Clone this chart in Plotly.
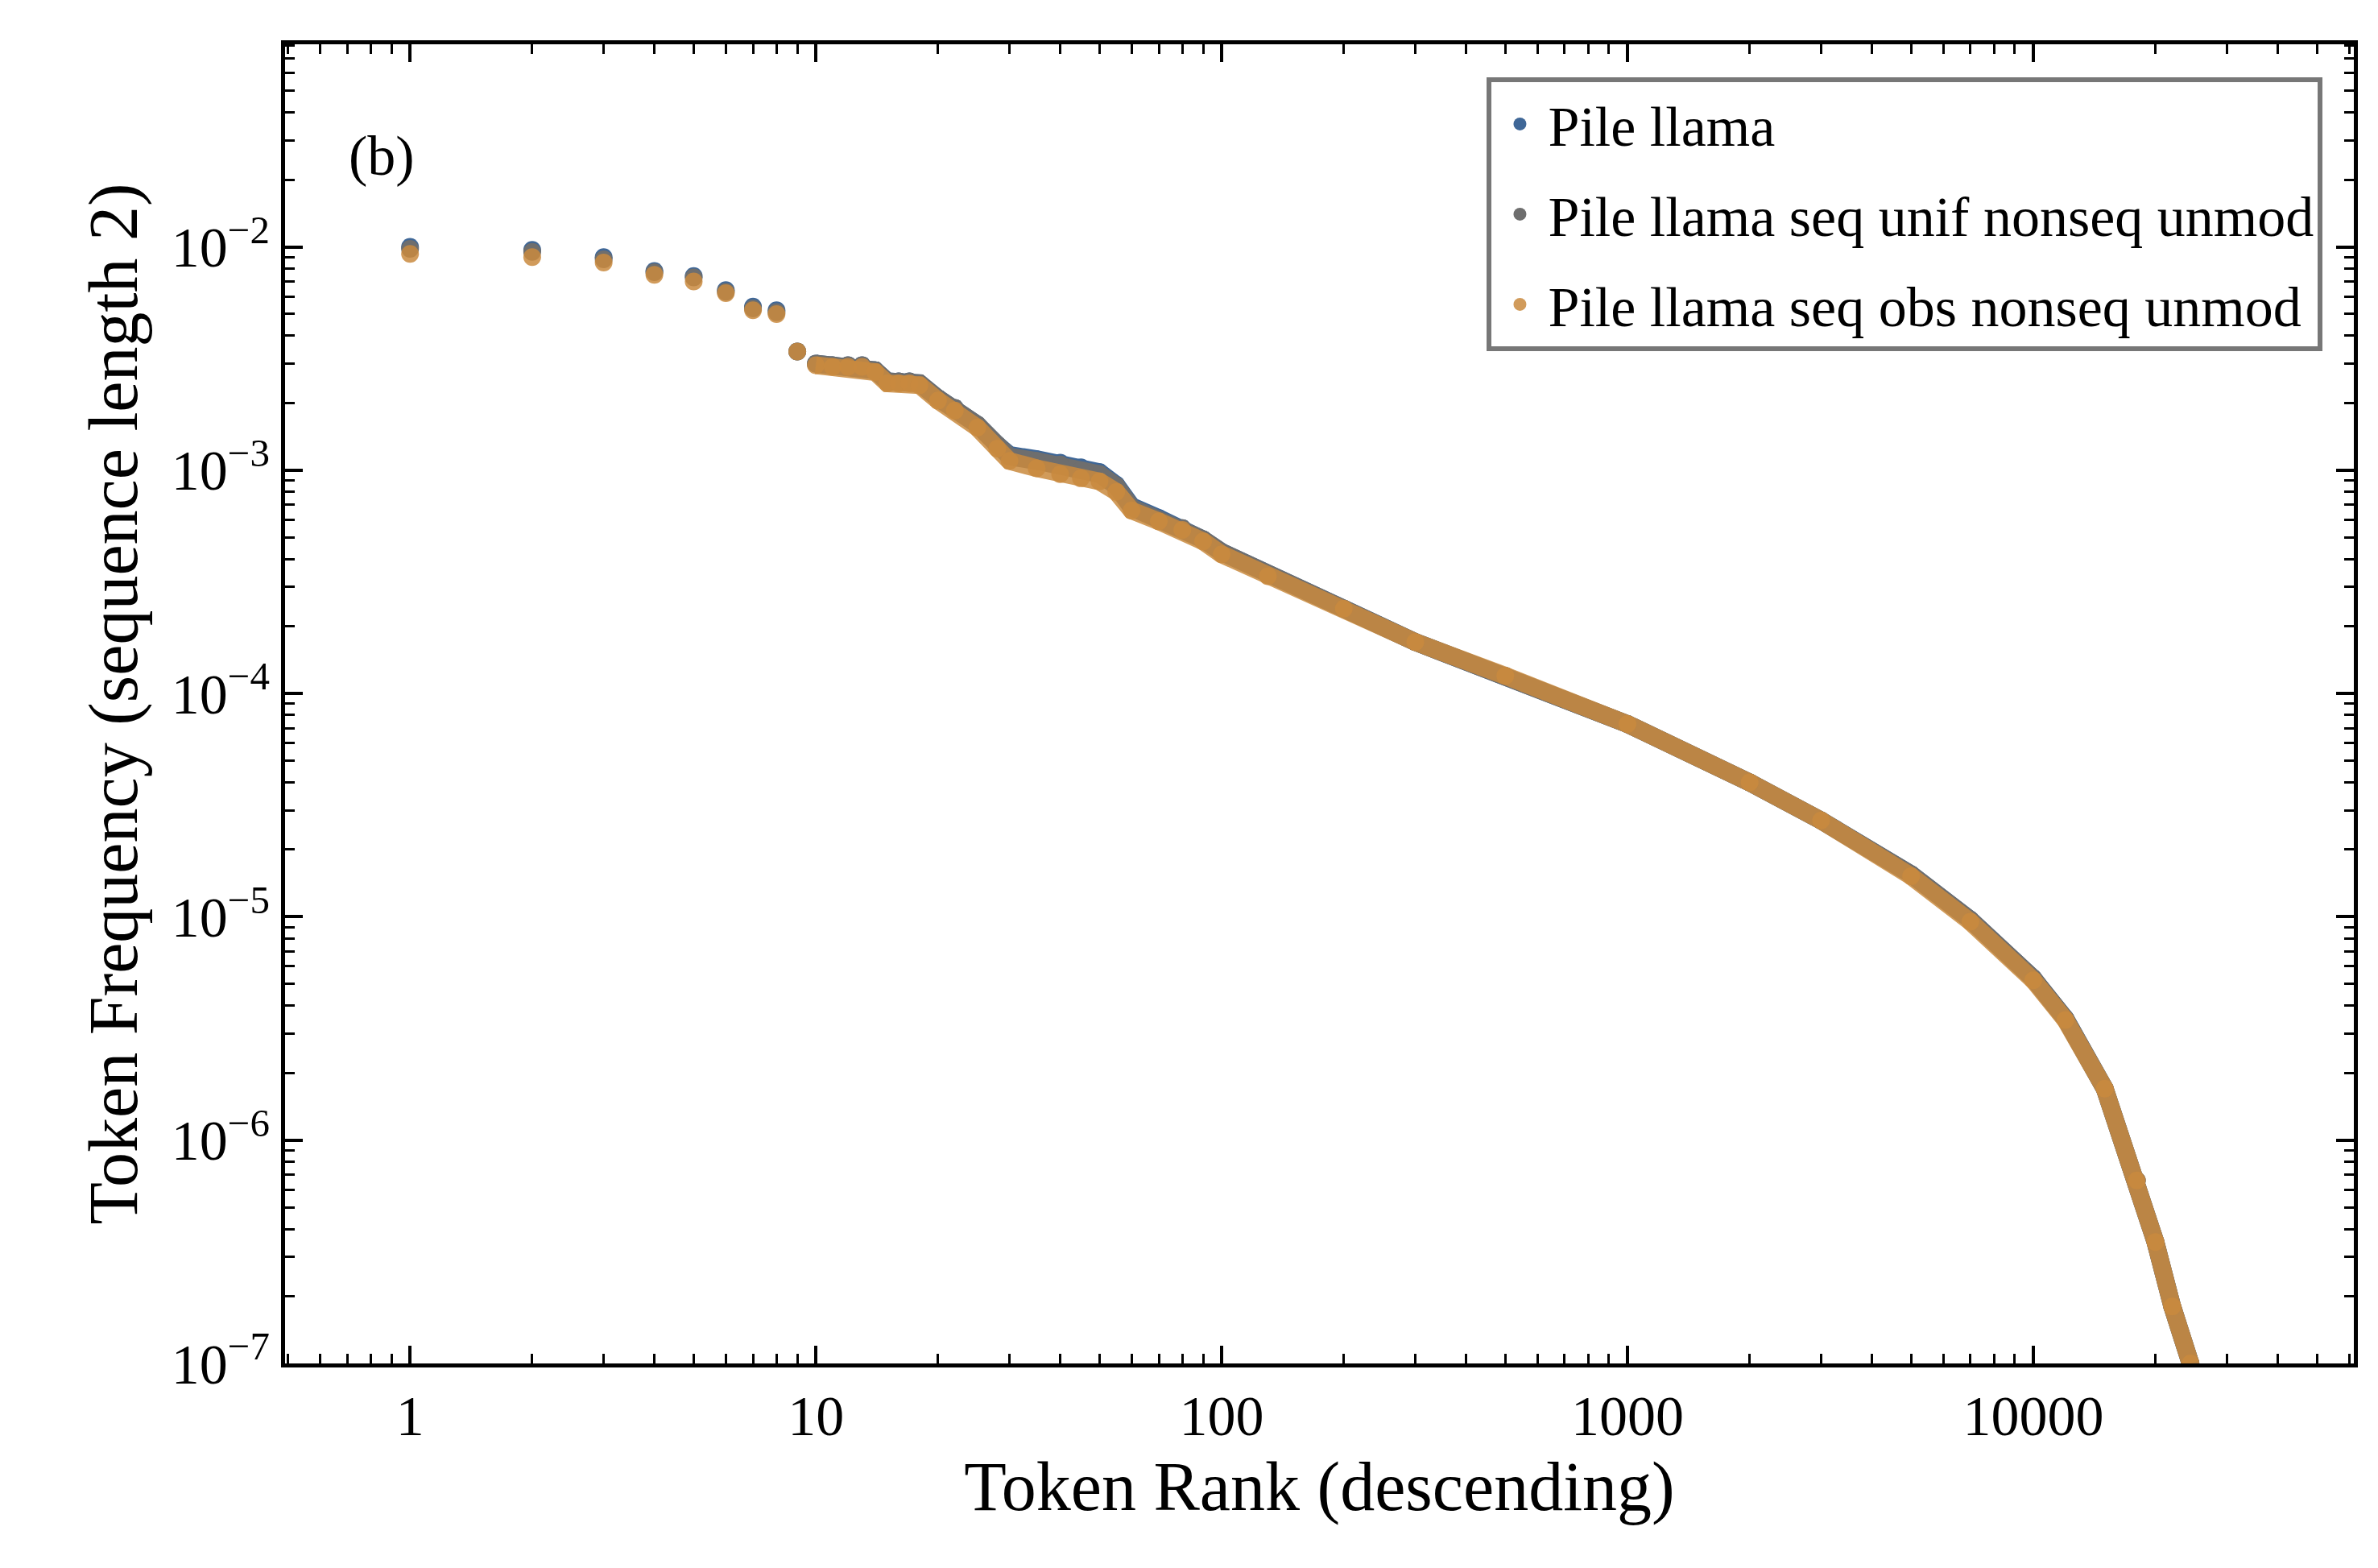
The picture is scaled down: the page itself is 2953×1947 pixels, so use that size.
import plotly.graph_objects as go

# ranks and frequencies
ranks = [1, 2, 3, 4, 5, 6, 7, 8, 9, 10, 11, 12, 13, 14, 15, 16, 17, 18, 20, 22, 25, 28, 30,
         35, 40, 45, 50, 55, 60, 70, 80, 90, 100, 130, 200, 300, 500, 1000, 2000, 3000,
         5000, 7000, 10000, 12000, 15000, 18000, 20000, 22000, 24400]
freq_llama = [1.0e-2, 9.7e-3, 9.0e-3, 7.8e-3, 7.4e-3, 6.4e-3, 5.4e-3, 5.2e-3, 3.4e-3, 3.0e-3,
              2.95e-3, 2.95e-3, 2.95e-3, 2.8e-3, 2.5e-3, 2.5e-3, 2.5e-3, 2.45e-3, 2.1e-3, 1.9e-3,
              1.6e-3, 1.3e-3, 1.17e-3, 1.12e-3, 1.08e-3, 1.03e-3, 0.98e-3, 0.86e-3, 6.9e-4,
              6.1e-4, 5.5e-4, 4.9e-4, 4.3e-4, 3.4e-4, 2.4e-4, 1.7e-4, 1.2e-4, 7.3e-5, 4.0e-5,
              2.7e-5, 1.55e-5, 9.7e-6, 5.3e-6, 3.5e-6, 1.7e-6, 6.6e-7, 3.5e-7, 1.8e-7, 1.0e-7]
freq_unif = [9.8e-3, 9.5e-3, 8.8e-3, 7.7e-3, 7.3e-3, 6.3e-3, 5.3e-3, 5.1e-3, 3.4e-3, 3.0e-3,
             2.95e-3, 2.95e-3, 2.95e-3, 2.8e-3, 2.5e-3, 2.5e-3, 2.5e-3, 2.45e-3, 2.1e-3, 1.9e-3,
             1.6e-3, 1.3e-3, 1.15e-3, 1.1e-3, 1.06e-3, 1.0e-3, 0.96e-3, 0.85e-3, 6.8e-4,
             6.0e-4, 5.5e-4, 4.9e-4, 4.3e-4, 3.4e-4, 2.4e-4, 1.7e-4, 1.2e-4, 7.3e-5, 4.0e-5,
             2.7e-5, 1.55e-5, 9.7e-6, 5.3e-6, 3.5e-6, 1.7e-6, 6.6e-7, 3.5e-7, 1.8e-7, 1.0e-7]
freq_obs = [9.3e-3, 9.0e-3, 8.5e-3, 7.5e-3, 7.0e-3, 6.2e-3, 5.2e-3, 5.0e-3, 3.4e-3, 2.95e-3,
            2.9e-3, 2.9e-3, 2.9e-3, 2.75e-3, 2.45e-3, 2.45e-3, 2.45e-3, 2.4e-3, 2.05e-3, 1.85e-3,
            1.55e-3, 1.25e-3, 1.1e-3, 1.02e-3, 0.96e-3, 0.92e-3, 0.89e-3, 0.8e-3, 6.6e-4,
            5.9e-4, 5.4e-4, 4.8e-4, 4.2e-4, 3.35e-4, 2.4e-4, 1.7e-4, 1.2e-4, 7.3e-5, 4.0e-5,
            2.7e-5, 1.52e-5, 9.5e-6, 5.2e-6, 3.45e-6, 1.7e-6, 6.6e-7, 3.5e-7, 1.8e-7, 1.0e-7]

series = [
    ("Pile llama", freq_llama, "#3f6797", 1.0),
    ("Pile llama seq unif nonseq unmod", freq_unif, "#6e6e6e", 1.0),
    ("Pile llama seq obs nonseq unmod", freq_obs, "#c98a3e", 0.85),
]

FONT = "Liberation Serif"
fig = go.Figure()
for name, ys, color, op in series:
    dense_x = [r for r in ranks if r >= 10]
    dense_y = [y for r, y in zip(ranks, ys) if r >= 10]
    fig.add_trace(go.Scatter(x=dense_x, y=dense_y, mode="lines", line=dict(color=color, width=22),
                             opacity=op, showlegend=False, legendgroup=name, hoverinfo="skip"))
    fig.add_trace(go.Scatter(x=ranks, y=ys, mode="markers", name=name, legendgroup=name,
                             marker=dict(color=color, size=22, opacity=op)))

ytick = [10.0 ** e for e in range(-7, -1)]
ytext = [f"10<sup>−{-e}</sup>" for e in range(-7, -1)]

axis_common = dict(showline=True, linecolor="black", linewidth=5, mirror="allticks",
                   ticks="inside", ticklen=22, tickwidth=4, tickcolor="black",
                   showgrid=False, zeroline=False, tickfont=dict(size=70, family=FONT))

fig.update_layout(
    width=2953, height=1947,
    paper_bgcolor="white", plot_bgcolor="white",
    margin=dict(l=346, r=38, t=47, b=262),
    font=dict(family=FONT, color="black"),
    xaxis=dict(type="log", range=[-0.308, 4.79],
               tickvals=[1, 10, 100, 1000, 10000], ticktext=["1", "10", "100", "1000", "10000"],
               minor=dict(ticks="inside", ticklen=12, tickwidth=3, tickcolor="black", dtick="D1"),
               title=dict(text="Token Rank (descending)", font=dict(size=86, family=FONT), standoff=20),
               **axis_common),
    yaxis=dict(type="log", range=[-7, -1.093], tickvals=ytick, ticktext=ytext,
               minor=dict(ticks="inside", ticklen=12, tickwidth=3, tickcolor="black", dtick="D1"),
               title=dict(text="Token Frequency (sequence length 2)", font=dict(size=86, family=FONT), standoff=15),
               **axis_common),
    legend=dict(x=0.985, y=0.975, xanchor="right", yanchor="top", bgcolor="white",
                bordercolor="#777777", borderwidth=6, font=dict(size=70, family=FONT),
                itemwidth=60, tracegroupgap=18),
    annotations=[dict(text="(b)", x=0.03, y=0.94, xref="paper", yref="paper",
                      showarrow=False, xanchor="left", font=dict(size=70, family=FONT))],
)

fig.write_html("out.html")
